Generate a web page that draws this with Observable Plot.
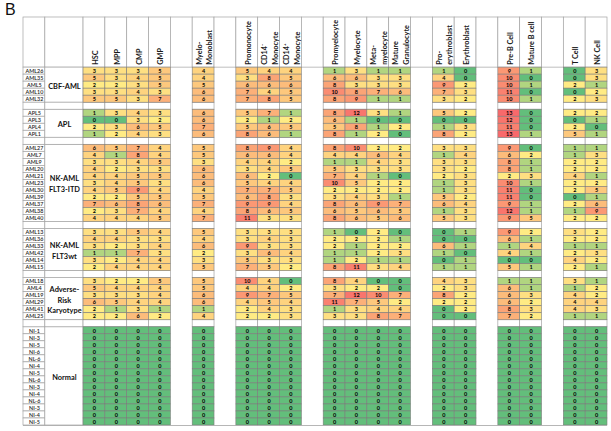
<!DOCTYPE html>
<html><head><meta charset="utf-8">
<script src="https://cdn.jsdelivr.net/npm/d3@7"></script>
<script src="https://cdn.jsdelivr.net/npm/@observablehq/plot@0.6"></script>
<style>
body{margin:0;background:#fff;}
#wrap{position:relative;width:611px;height:431px;overflow:hidden;}
#panel{position:absolute;left:5px;top:1px;font:16px "Liberation Sans",Arial,sans-serif;color:#111;}
#chart{position:absolute;left:0;top:0;}
</style></head><body>
<div id="wrap"><div id="chart"></div><div id="panel">B</div></div>
<script>
// ---------- data ----------
const cellTypes = ["HSC","MPP","CMP","GMP","Myelo-Monoblast","Promonocyte","CD14- Monocyte","CD14+ Monocyte",
  "Promyelocyte","Myelocyte","Metamyelocyte","Mature Granulocyte","Pro-erythroblast","Erythroblast",
  "Pre-B Cell","Mature B cell","T Cell","NK Cell"];
const headerLabels = ["HSC","MPP","CMP","GMP","Myelo-\nMonoblast","Promonocyte","CD14\u207B\nMonocyte","CD14\u207A\nMonocyte",
  "Promyelocyte","Myelocyte","Meta-\nmyelocyte","Mature\nGranulocyte","Pro-\nerythroblast","Erythroblast",
  "Pre-B Cell","Mature B cell","T Cell","NK Cell"];
const columnGroupSizes = [4,1,3,4,2,2,2];

const groupLabels = ["CBF-AML","APL","NK-AML\nFLT3-ITD","NK-AML\nFLT3wt","Adverse-\nRisk\nKaryotype","Normal"];

const cbfSamples = ["AML26","AML35","AML5","AML10","AML32"];
const cbfValues = [
  [3,3,3,5, 4, 5,4,4, 1,3,1,1, 1,0, 9,1, 0,3],
  [5,3,4,5, 4, 3,8,5, 6,6,3,3, 4,0, 10,0, 0,3],
  [2,2,3,5, 5, 6,6,6, 8,3,3,3, 9,2, 10,1, 2,1],
  [3,3,4,3, 6, 7,4,5, 10,8,7,6, 7,3, 11,0, 0,2],
  [5,5,3,7, 6, 7,8,5, 8,9,1,1, 3,2, 10,1, 2,3]
];
const aplSamples = ["APL5","APL3","APL4","APL1"];
const aplValues = [
  [1,3,4,3, 6, 5,7,1, 8,12,3,1, 5,2, 13,0, 2,2],
  [0,0,3,2, 6, 2,1,2, 6,1,0,0, 0,0, 12,0, 0,1],
  [2,3,6,5, 7, 5,6,5, 5,8,1,2, 1,3, 11,0, 2,0],
  [1,2,4,3, 6, 8,6,1, 8,1,2,0, 8,2, 13,1, 5,1]
];
const itdSamples = ["AML27","AML7","AML9","AML20","AML21","AML23","AML30","AML39","AML37","AML38","AML40"];
const itdValues = [
  [6,5,7,4, 5, 8,9,4, 8,10,2,2, 3,3, 9,0, 1,1],
  [4,1,8,4, 5, 6,6,4, 4,4,6,4, 1,4, 6,2, 1,3],
  [3,3,4,5, 3, 4,4,2, 1,1,4,3, 3,3, 8,1, 2,2],
  [4,2,3,3, 6, 3,4,5, 5,3,3,3, 3,2, 8,1, 2,2],
  [4,4,5,5, 6, 6,2,0, 7,4,1,0, 2,3, 2,3, 4,1],
  [3,4,5,3, 6, 5,4,4, 10,5,2,2, 1,3, 10,1, 2,2],
  [4,5,9,4, 4, 7,7,5, 2,2,2,2, 1,3, 11,0, 2,5],
  [2,2,5,5, 5, 6,8,3, 3,4,3,1, 5,2, 11,0, 0,1],
  [7,6,8,6, 7, 9,9,4, 8,6,9,7, 6,4, 9,1, 2,6],
  [2,3,7,4, 4, 8,6,5, 6,5,6,5, 1,3, 12,1, 1,9],
  [4,4,4,5, 7, 11,3,3, 8,6,5,6, 5,3, 9,5, 2,2]
];
const wtSamples = ["AML13","AML36","AML33","AML42","AML14","AML15"];
const wtValues = [
  [3,3,5,4, 5, 3,3,3, 1,0,2,0, 0,1, 9,2, 3,2],
  [4,4,3,3, 4, 3,4,3, 2,2,2,1, 0,0, 6,1, 2,2],
  [3,2,3,4, 6, 9,3,3, 2,1,2,2, 6,1, 1,4, 1,1],
  [1,1,7,3, 2, 3,6,4, 1,1,2,3, 1,0, 4,1, 2,3],
  [3,2,4,4, 3, 5,3,3, 1,2,1,1, 0,1, 0,0, 4,2],
  [2,4,4,4, 5, 7,5,2, 8,11,3,4, 1,1, 5,1, 2,1]
];
const advSamples = ["AML18","AML4","AML19","AML29","AML41","AML25"];
const advValues = [
  [3,2,2,5, 5, 10,4,0, 8,4,0,0, 4,3, 1,1, 3,1],
  [5,4,4,4, 5, 4,4,2, 3,2,2,0, 2,3, 6,1, 1,2],
  [3,3,3,4, 6, 9,7,5, 7,12,10,7, 8,2, 6,3, 4,2],
  [6,5,4,4, 6, 4,5,4, 11,7,5,2, 2,2, 6,2, 4,4],
  [2,1,3,1, 1, 2,4,3, 1,3,4,4, 0,2, 8,3, 4,3],
  [2,2,6,2, 4, 2,2,3, 3,3,8,7, 0,0, 7,2, 1,1]
];
const nlSamples = ["NI-1","NI-3","NI-5","NI-6","NL-6","NI-4","NI-5","NL-6","NI-3","NI-4","NL-6","NI-3","NI-4","NI-5"];
const nlValues = [
  [0,0,0,0, 0, 0,0,0, 0,0,0,0, 0,0, 0,0, 0,0],
  [0,0,0,0, 0, 0,0,0, 0,0,0,0, 0,0, 0,0, 0,0],
  [0,0,0,0, 0, 0,0,0, 0,0,0,0, 0,0, 0,0, 0,0],
  [0,0,0,0, 0, 0,0,0, 0,0,0,0, 0,0, 0,0, 0,0],
  [0,0,0,0, 0, 0,0,0, 0,0,0,0, 0,0, 0,0, 0,0],
  [0,0,0,0, 0, 0,0,0, 0,0,0,0, 0,0, 0,0, 0,0],
  [0,0,0,0, 0, 0,0,0, 0,0,0,0, 0,0, 0,0, 0,0],
  [0,0,0,0, 0, 0,0,0, 0,0,0,0, 0,0, 0,0, 0,0],
  [0,0,0,0, 0, 0,0,0, 0,0,0,0, 0,0, 0,0, 0,0],
  [0,0,0,0, 0, 0,0,0, 0,0,0,0, 0,0, 0,0, 0,0],
  [0,0,0,0, 0, 0,0,0, 0,0,0,0, 0,0, 0,0, 0,0],
  [0,0,0,0, 0, 0,0,0, 0,0,0,0, 0,0, 0,0, 0,0],
  [0,0,0,0, 0, 0,0,0, 0,0,0,0, 0,0, 0,0, 0,0],
  [0,0,0,0, 0, 0,0,0, 0,0,0,0, 0,0, 0,0, 0,0]
];

// ---------- layout (derived from table structure) ----------
const sampleGroups = [
  {label: groupLabels[0], samples: cbfSamples, values: cbfValues},
  {label: groupLabels[1], samples: aplSamples, values: aplValues},
  {label: groupLabels[2], samples: itdSamples, values: itdValues},
  {label: groupLabels[3], samples: wtSamples, values: wtValues},
  {label: groupLabels[4], samples: advSamples, values: advValues},
  {label: groupLabels[5], samples: nlSamples, values: nlValues}
];
const SAMPLE_COL = [-2.75, -1.75], GROUP_COL = [-1.75, 0], HEADER_UNITS = 50 / 7;

const colPos = []; let p = 0;
columnGroupSizes.forEach((n, gi) => { if (gi > 0) p++; for (let k = 0; k < n; k++) colPos.push(p++); });
const nUnits = p;

const rows = [], seps = [], spans = []; let r = 0;
sampleGroups.forEach((g, gi) => {
  if (gi > 0) seps.push(r++);
  const start = r;
  g.samples.forEach((s, si) => rows.push({name: s, r: r++, values: g.values[si]}));
  spans.push({label: g.label, start, end: r});
});
const nRows = r;

const cells = rows.flatMap(row => row.values.map((v, ci) => ({x: colPos[ci], r: row.r, v, type: cellTypes[ci], sample: row.name})));
const sepCells = seps.flatMap(s => colPos.map(x => ({x, r: s})));
const headerCells = [{x1: SAMPLE_COL[0], x2: SAMPLE_COL[1]}, {x1: GROUP_COL[0], x2: GROUP_COL[1]},
  ...d3.range(nUnits).map(u => ({x1: u, x2: u + 1}))];
const headerText = headerLabels.map((t, i) => ({x: colPos[i] + 0.5, t}));
const labelRows = [...rows.map(d => d.r), ...seps].map(rr => ({r: rr}));

const gridStroke = "#7d7d7d", headStroke = "#a3a3a3";

const chart = Plot.plot({
  width: 611, height: 431,
  marginTop: 0, marginBottom: 0, marginLeft: 0, marginRight: 0,
  style: {fontFamily: "Lato, 'Open Sans', sans-serif", background: "white"},
  x: {type: "linear", domain: [SAMPLE_COL[0], nUnits], range: [23, 607], axis: null},
  y: {type: "linear", domain: [-HEADER_UNITS, nRows], range: [17, 425], axis: null},
  color: {type: "linear", domain: [0, 2, 13], range: ["#63BE7B", "#FFEB84", "#F8696B"], interpolate: "rgb"},
  marks: [
    Plot.rect(headerCells, {x1: "x1", x2: "x2", y1: -HEADER_UNITS, y2: 0, fill: "white", stroke: headStroke, strokeWidth: 0.7}),
    Plot.rect(labelRows, {x1: SAMPLE_COL[0], x2: SAMPLE_COL[1], y1: "r", y2: d => d.r + 1, fill: "white", stroke: headStroke, strokeWidth: 0.7}),
    Plot.rect(spans, {x1: GROUP_COL[0], x2: GROUP_COL[1], y1: "start", y2: "end", fill: "white", stroke: headStroke, strokeWidth: 0.7}),
    Plot.rect(seps.map(s => ({r: s})), {x1: GROUP_COL[0], x2: GROUP_COL[1], y1: "r", y2: d => d.r + 1, fill: "white", stroke: headStroke, strokeWidth: 0.7}),
    Plot.rect(sepCells, {x1: "x", x2: d => d.x + 1, y1: "r", y2: d => d.r + 1, fill: "white", stroke: headStroke, strokeWidth: 0.7}),
    Plot.rect(cells, {x1: "x", x2: d => d.x + 1, y1: "r", y2: d => d.r + 1, fill: "v", stroke: gridStroke, strokeWidth: 0.6}),
    Plot.text(cells, {x: d => d.x + 0.5, y: d => d.r + 0.5, text: d => String(d.v), fontSize: 5.5, fontWeight: "bold", fill: "#000"}),
    Plot.text(rows, {x: (SAMPLE_COL[0] + SAMPLE_COL[1]) / 2, y: d => d.r + 0.5, text: "name", fontSize: 5.4, fontWeight: 600, fill: "#222"}),
    Plot.text(spans, {x: (GROUP_COL[0] + GROUP_COL[1]) / 2, y: d => (d.start + d.end) / 2, text: "label", fontSize: 7.4, fontWeight: "bold", lineHeight: 1.45, fill: "#111"}),
    Plot.text(headerText, {x: "x", y: -0.4, text: "t", rotate: -90, textAnchor: "start", fontSize: 7.3, fontWeight: "bold", lineHeight: 1.45, fill: "#1a1a1a"}),
    Plot.ruleY([nRows], {x1: SAMPLE_COL[0], x2: nUnits, stroke: headStroke, strokeWidth: 0.8})
  ]
});
document.getElementById("chart").appendChild(chart);
</script>
</body></html>
